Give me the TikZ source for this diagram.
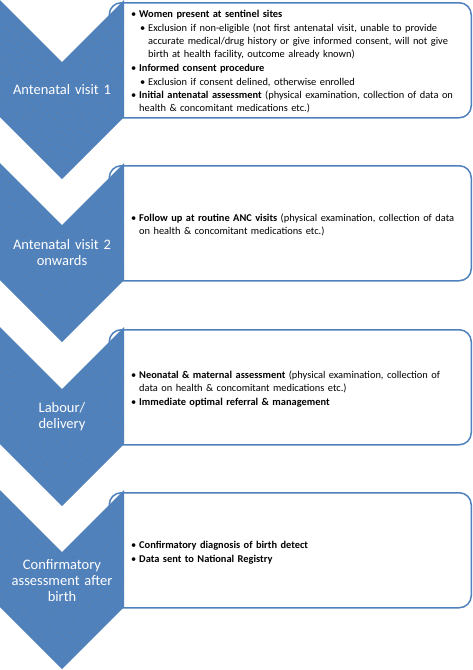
\documentclass[tikz,border=0pt]{standalone}
\usepackage{fontspec}
\setmainfont{Carlito}
\usepackage{enumitem}
\usetikzlibrary{patterns.meta}
\definecolor{stageblue}{HTML}{4F81BD}
\definecolor{speck}{HTML}{9A6A3A}
\newlist{notelist}{itemize}{2}
\setlist[notelist,1]{label=\textbullet,leftmargin=7pt,labelsep=3pt,itemsep=0.8pt,topsep=0pt,parsep=0pt,partopsep=0pt}
\setlist[notelist,2]{label=\textbullet,leftmargin=9pt,labelsep=3pt,itemsep=0pt,topsep=0.8pt,parsep=0pt,partopsep=0pt}

\begin{document}
\begin{tikzpicture}[x=1pt,y=-1pt,
    chevron/.style={fill=stageblue,postaction={pattern={Dots[distance=4pt,radius=0.45pt,angle=20]},pattern color=speck}},
    panel/.style={draw=stageblue,line width=1.5pt,fill=white,rounded corners=12pt,minimum width=362pt,minimum height=115pt,anchor=north east},
    stagelabel/.style={text=white,font=\fontsize{14.5}{16}\selectfont,align=center,text width=118pt,inner sep=0pt},
    notes/.style={anchor=west,text width=336pt,inner sep=0pt,font=\fontsize{10.4}{13}\selectfont,align=left}]
  \useasboundingbox (0,0) rectangle (473,670);
          \node[panel] (p1) at (472,2) {};
          \node[panel] (p2) at (472,165) {};
          \node[panel] (p3) at (472,329) {};
          \node[panel] (p4) at (472,492) {};
          \fill[chevron] (0,0) -- (62,62) -- (124,0) -- (124,117) -- (62,179) -- (0,117) -- cycle;
          \fill[chevron] (0,163) -- (62,225) -- (124,163) -- (124,280) -- (62,342) -- (0,280) -- cycle;
          \fill[chevron] (0,327) -- (62,389) -- (124,327) -- (124,444) -- (62,506) -- (0,444) -- cycle;
          \fill[chevron] (0,490) -- (62,552) -- (124,490) -- (124,607) -- (62,669) -- (0,607) -- cycle;
          \node[stagelabel] (l1) at (62,90) {Antenatal visit 1};
          \node[stagelabel] (l2) at (62,253) {Antenatal visit 2\\onwards};
          \node[stagelabel] (l3) at (62,417) {Labour/\\delivery};
          \node[stagelabel] (l4) at (62,581) {Confirmatory\\assessment after\\birth};
          \node[notes] (n1) at (132,59) {\begin{notelist}
            \item \textbf{Women present at sentinel sites}
              \begin{notelist}
              \item Exclusion if non-eligible (not first antenatal visit, unable to provide\\accurate medical/drug history or give informed consent, will not give\\birth at health facility, outcome already known)
              \end{notelist}
            \item \textbf{Informed consent procedure}
              \begin{notelist}
              \item Exclusion if consent delined, otherwise enrolled
              \end{notelist}
            \item \textbf{Initial antenatal assessment} (physical examination, collection of data on\\health \& concomitant medications etc.)
            \end{notelist}};
          \node[notes] (n2) at (132,222) {\begin{notelist}
            \item \textbf{Follow up at routine ANC visits} (physical examination, collection of data\\on health \& concomitant medications etc.)
            \end{notelist}};
          \node[notes] (n3) at (132,386) {\begin{notelist}
            \item \textbf{Neonatal \& maternal assessment} (physical examination, collection of\\data on health \& concomitant medications etc.)
            \item \textbf{Immediate optimal referral \& management}
            \end{notelist}};
          \node[notes] (n4) at (132,550) {\begin{notelist}
            \item \textbf{Confirmatory diagnosis of birth detect}
            \item \textbf{Data sent to National Registry}
            \end{notelist}};
        \end{tikzpicture}
\end{document}
